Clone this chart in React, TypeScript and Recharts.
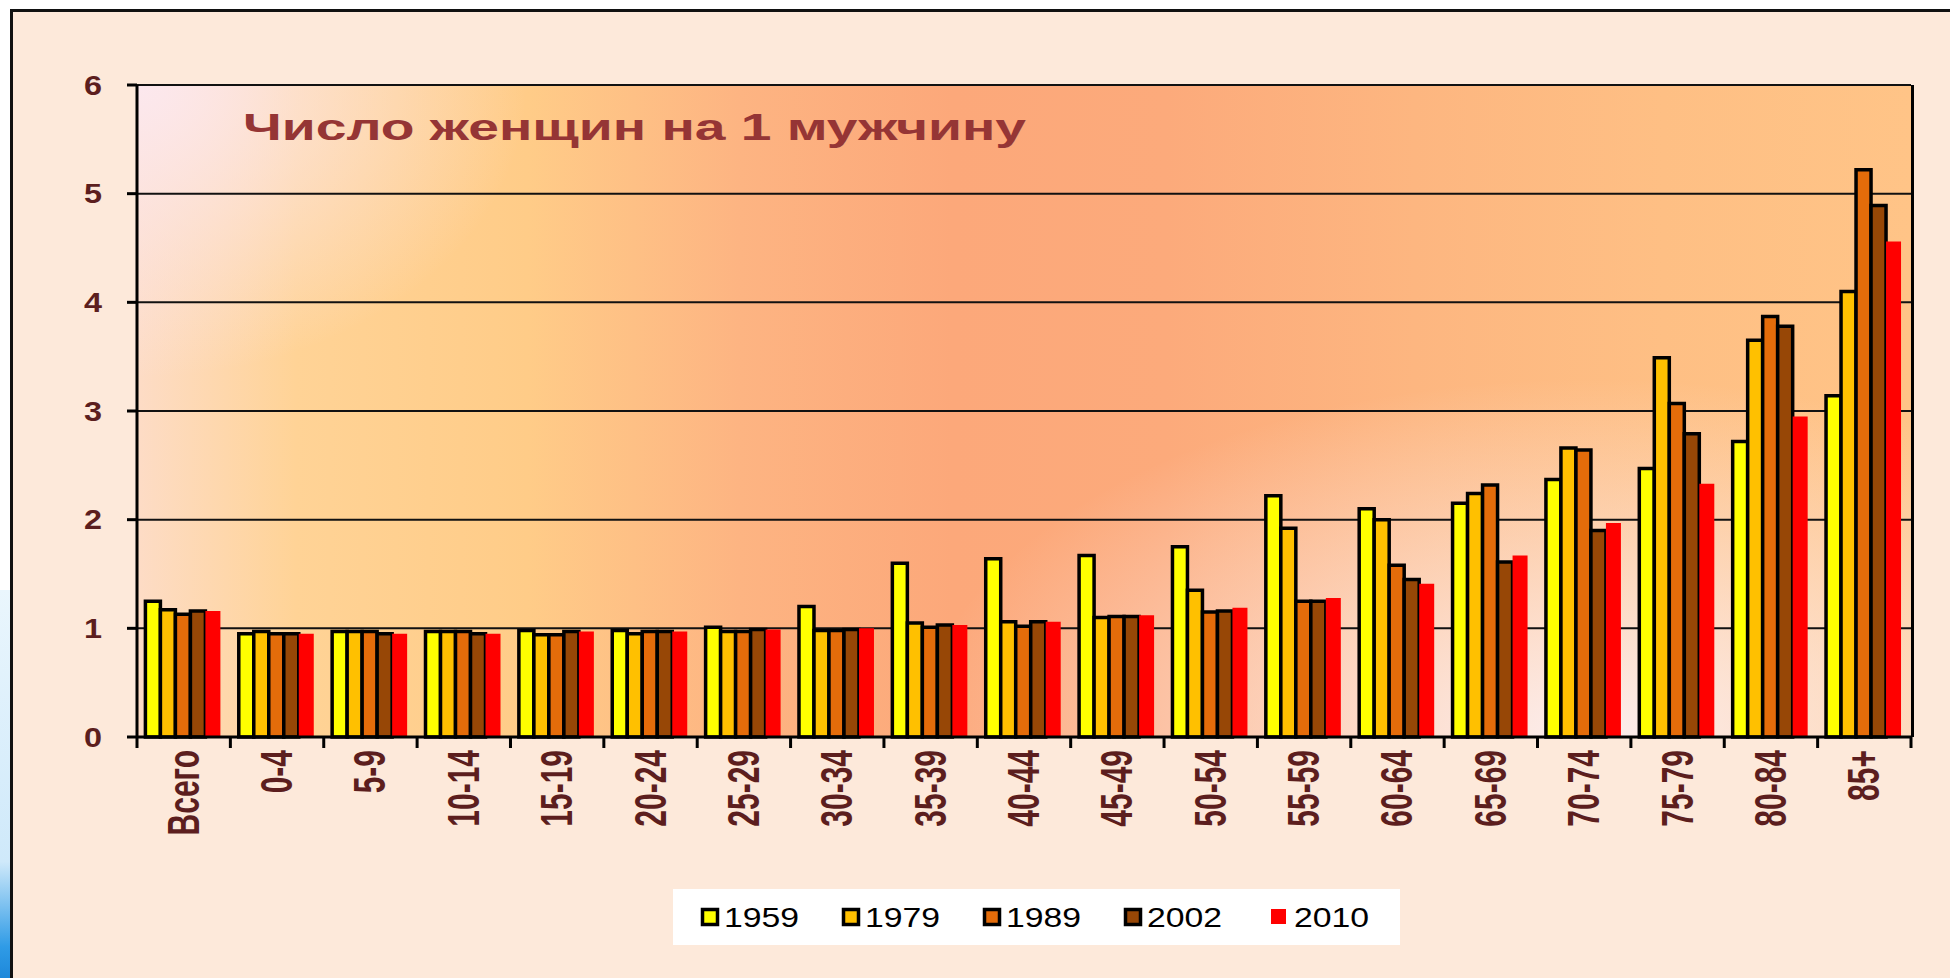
import { Bar, BarChart, CartesianGrid, Legend, XAxis, YAxis } from "recharts";

const categories = [
  "Всего", "0-4", "5-9", "10-14", "15-19", "20-24", "25-29", "30-34", "35-39", "40-44",
  "45-49", "50-54", "55-59", "60-64", "65-69", "70-74", "75-79", "80-84", "85+",
];
const v1959 = [1.25, 0.95, 0.97, 0.97, 0.98, 0.98, 1.01, 1.2, 1.6, 1.64, 1.67, 1.75, 2.22, 2.1, 2.15, 2.37, 2.47, 2.72, 3.14];
const v1979 = [1.17, 0.97, 0.97, 0.97, 0.94, 0.95, 0.97, 0.98, 1.05, 1.06, 1.1, 1.35, 1.92, 2.0, 2.24, 2.66, 3.49, 3.65, 4.1];
const v1989 = [1.13, 0.95, 0.97, 0.97, 0.94, 0.97, 0.97, 0.98, 1.01, 1.02, 1.11, 1.15, 1.25, 1.58, 2.32, 2.64, 3.07, 3.87, 5.22];
const v2002 = [1.16, 0.95, 0.95, 0.95, 0.97, 0.97, 0.99, 0.99, 1.03, 1.06, 1.11, 1.16, 1.25, 1.45, 1.61, 1.9, 2.79, 3.78, 4.89];
const v2010 = [1.16, 0.95, 0.95, 0.95, 0.97, 0.97, 0.99, 1.0, 1.03, 1.06, 1.12, 1.19, 1.28, 1.41, 1.67, 1.97, 2.33, 2.95, 4.56];
const yTicks = [0, 1, 2, 3, 4, 5, 6];

const series = [
  { key: "y1959", name: "1959", values: v1959, color: "#FFFF00", stroke: "#000" },
  { key: "y1979", name: "1979", values: v1979, color: "#FFC000", stroke: "#000" },
  { key: "y1989", name: "1989", values: v1989, color: "#E46C0A", stroke: "#000" },
  { key: "y2002", name: "2002", values: v2002, color: "#974706", stroke: "#000" },
  { key: "y2010", name: "2010", values: v2010, color: "#FF0000", stroke: "none" },
];

const data = categories.map((age, i) => {
  const row: Record<string, string | number> = { age };
  series.forEach((s) => { row[s.key] = s.values[i]; });
  return row;
});

const FONT = "'Liberation Sans', Arial, sans-serif";
const LABEL = "#5C1E1E";
const PLOT = { left: 137, top: 85, right: 1911, bottom: 737 };
const BAND = (PLOT.right - PLOT.left) / categories.length;

function AgeTick(props: any) {
  const { x, y, payload } = props;
  const half = payload?.offset || BAND / 2;
  const last = payload?.index === categories.length - 1;
  return (
    <g>
      <line x1={x - half} x2={x - half} y1={y} y2={y + 11} stroke="#000" strokeWidth={3} />
      {last && <line x1={x + half} x2={x + half} y1={y} y2={y + 11} stroke="#000" strokeWidth={3} />}
      <g transform={`translate(${x + 15},${y + 13}) rotate(-90)`}>
        <text transform="scale(1,1.5)" textAnchor="end" fontSize={30} fontWeight="bold"
          fontFamily={FONT} fill={LABEL}>{payload.value}</text>
      </g>
    </g>
  );
}

function ValueTick(props: any) {
  const { x, y, payload } = props;
  return (
    <g transform={`translate(${x},${y})`}>
      <text transform="scale(1.2,1)" textAnchor="end" dy="0.36em" fontSize={27} fontWeight="bold"
        fontFamily={FONT} fill={LABEL}>{payload.value}</text>
    </g>
  );
}

function YearLegend() {
  const step = 141;
  return (
    <svg width={727} height={56} style={{ display: "block", background: "#fff" }}>
      {series.map((s, i) => {
        const x0 = 28 + i * step + (s.stroke === "none" ? 6 : 0);
        return (
          <g key={s.key}>
            {s.stroke === "none"
              ? <rect x={x0} y={20} width={15} height={15} fill={s.color} />
              : <rect x={x0 + 1.5} y={20.5} width={15} height={15} fill={s.color} stroke="#000" strokeWidth={3.5} />}
            <g transform={`translate(${x0 + 23},${38})`}>
              <text transform="scale(1.25,1)" fontSize={27} fontFamily={FONT} fill="#000">{s.name}</text>
            </g>
          </g>
        );
      })}
    </svg>
  );
}

export default function App() {
  return (
    <div style={{ position: "fixed", left: 0, top: 0, width: 1950, height: 978, overflow: "hidden", background: "#fff" }}>
      <div style={{
        position: "absolute", left: 0, top: 590, width: 10, height: 388,
        background: "linear-gradient(180deg, #EAF6FD 0%, #CFE9FA 70%, #2F9BE6 92%, #1E88DA 100%)",
      }} />
      <div style={{
        position: "absolute", left: 10, top: 9, width: 2000, height: 1000,
        border: "3px solid #111", background: "#FDE9DA", boxSizing: "border-box",
      }} />
      <div style={{
        position: "absolute", left: PLOT.left, top: PLOT.top, width: PLOT.right - PLOT.left + 3,
        height: PLOT.bottom - PLOT.top, boxSizing: "border-box", borderRight: "3px solid #000",
        background: [
          "radial-gradient(ellipse 22% 45% at 0% 0%, rgba(252,232,238,1), rgba(252,232,238,0))",
          "radial-gradient(ellipse 38% 55% at 82% 100%, rgba(252,238,238,1), rgba(252,238,238,0))",
          "linear-gradient(90deg, #FDDCC6 0%, #FFD396 9%, #FFCC88 22%, #FDB482 34%, #FCA87A 46%, #FCAA7B 58%, #FDB680 72%, #FEBF84 86%, #FFC487 100%)",
        ].join(","),
      }} />
      <BarChart
        width={1950}
        height={978}
        data={data}
        margin={{ top: PLOT.top, right: 1950 - PLOT.right, left: 0, bottom: 91 }}
        barCategoryGap="9%"
        barGap={0}
      >
        <CartesianGrid vertical={false} stroke="#111" strokeWidth={2} />
        <XAxis dataKey="age" interval={0} height={150} tick={<AgeTick />} tickLine={false}
          tickSize={0} tickMargin={0} axisLine={{ stroke: "#000", strokeWidth: 3 }} />
        <YAxis width={PLOT.left} domain={[0, 6]} ticks={yTicks} interval={0} tick={<ValueTick />}
          tickSize={10} tickMargin={25} tickLine={{ stroke: "#000", strokeWidth: 3 }}
          axisLine={{ stroke: "#000", strokeWidth: 3 }} />
        <Legend verticalAlign="middle" align="center" layout="horizontal"
          wrapperStyle={{ top: 889, left: 673, width: 727 }} content={() => <YearLegend />} />
        {series.map((s) => (
          <Bar key={s.key} dataKey={s.key} name={s.name} fill={s.color}
            stroke={s.stroke} strokeWidth={s.stroke === "none" ? 0 : 3.5} isAnimationActive={false} />
        ))}
      </BarChart>
      <svg style={{ position: "absolute", left: 0, top: 0, pointerEvents: "none" }} width={1950} height={300}>
        <text x={243} y={140} fontSize={36} fontWeight="bold" fontFamily={FONT}
          fill="#953535" textLength={783} lengthAdjust="spacingAndGlyphs">Число женщин на 1 мужчину</text>
      </svg>
    </div>
  );
}
